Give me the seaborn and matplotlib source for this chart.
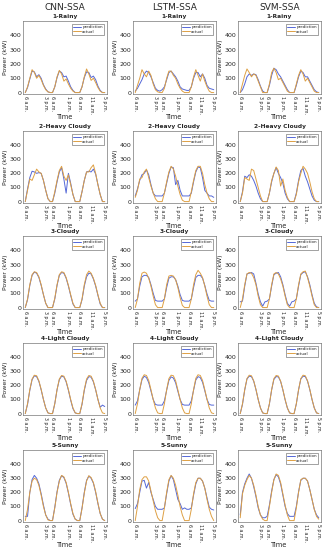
"""Prediction vs actual PV power for three SSA models and five weather types."""

import matplotlib

matplotlib.use("Agg")

import matplotlib.pyplot as plt
import pandas as pd
import seaborn as sns

FIG_DPI = 100
PRED_COLOR = "#5468d8"
ACTUAL_COLOR = "#dea044"

MODELS = ["CNN-SSA", "LSTM-SSA", "SVM-SSA"]
WEATHER = ["1-Rainy", "2-Heavy Cloudy", "3-Cloudy", "4-Light Cloudy", "5-Sunny"]

# 12 hourly samples per day (6 a.m. .. 5 p.m.), three days
TICK_POS = [0, 9, 12, 19, 24, 29, 35]
TICK_LABELS = ["6 a.m.", "3 p.m.", "6 a.m.", "1 p.m.", "6 a.m.", "11 a.m.", "5 p.m."]
Y_TICKS = [0, 100, 200, 300, 400]

# ---- 1-Rainy
cnn_rainy_pred = [0, 35, 95, 150, 145, 110, 125, 100, 55, 25, 5, 0,
                  0, 40, 105, 150, 140, 110, 115, 80, 40, 15, 0, 0,
                  0, 40, 105, 145, 140, 105, 115, 90, 45, 15, 0, 0]
cnn_rainy_act = [0, 40, 100, 160, 140, 100, 120, 90, 50, 20, 5, 0,
                 0, 40, 110, 155, 130, 80, 95, 60, 30, 10, 0, 0,
                 0, 40, 110, 165, 130, 85, 100, 70, 35, 10, 0, 0]
lstm_rainy_pred = [10, 30, 60, 90, 130, 150, 140, 110, 70, 30, 15, 10,
                   20, 40, 90, 140, 150, 130, 110, 80, 40, 25, 20, 15,
                   15, 40, 100, 140, 140, 110, 130, 100, 50, 30, 25, 20]
lstm_rainy_act = [0, 50, 100, 160, 130, 110, 150, 120, 60, 20, 5, 0,
                  0, 30, 100, 150, 150, 120, 100, 60, 30, 10, 0, 0,
                  0, 40, 110, 160, 120, 80, 130, 80, 40, 10, 0, 0]
svm_rainy_pred = [0, 20, 60, 110, 130, 120, 130, 125, 90, 45, 10, 0,
                  0, 50, 120, 170, 160, 130, 110, 80, 50, 20, 0, 0,
                  0, 50, 110, 150, 140, 110, 110, 80, 50, 20, 5, 0]
svm_rainy_act = [0, 60, 120, 165, 140, 110, 130, 120, 80, 40, 0, 0,
                 0, 60, 140, 170, 140, 90, 100, 70, 40, 10, 0, 0,
                 0, 60, 120, 160, 130, 80, 100, 70, 40, 10, 0, 0]

# ---- 2-Heavy Cloudy
cnn_heavy_pred = [0, 90, 170, 215, 210, 200, 205, 200, 150, 80, 20, 0,
                  0, 60, 140, 210, 240, 160, 60, 200, 130, 50, 0, 0,
                  0, 70, 150, 210, 215, 210, 230, 195, 120, 50, 0, 0]
cnn_heavy_act = [0, 80, 160, 150, 190, 230, 210, 200, 150, 80, 20, 0,
                 0, 70, 150, 220, 250, 180, 150, 190, 120, 50, 0, 0,
                 0, 70, 150, 210, 210, 240, 260, 200, 120, 50, 0, 0]
lstm_heavy_pred = [40, 90, 150, 190, 200, 225, 190, 120, 60, 40, 40, 40,
                   40, 60, 130, 200, 245, 240, 120, 150, 80, 40, 40, 40,
                   40, 60, 140, 210, 245, 240, 170, 80, 60, 40, 40, 30]
lstm_heavy_act = [30, 80, 160, 170, 210, 230, 170, 110, 60, 20, 0, 0,
                  0, 60, 140, 210, 250, 230, 180, 110, 50, 10, 0, 0,
                  0, 70, 150, 220, 250, 250, 200, 120, 60, 20, 0, 0]
svm_heavy_pred = [0, 70, 180, 170, 190, 180, 150, 110, 60, 20, 0, 0,
                  0, 60, 140, 200, 240, 200, 170, 130, 60, 20, 0, 0,
                  0, 60, 150, 220, 235, 180, 140, 90, 40, 10, 0, 0]
svm_heavy_act = [0, 60, 170, 160, 150, 230, 220, 160, 100, 40, 0, 0,
                 0, 60, 150, 200, 245, 220, 110, 160, 80, 30, 0, 0,
                 0, 50, 140, 200, 250, 230, 200, 140, 70, 20, 0, 0]

# ---- 3-Cloudy
cnn_cloudy_pred = [0, 55, 155, 225, 248, 240, 210, 155, 90, 30, 0, 0,
                   0, 60, 155, 225, 245, 240, 205, 150, 85, 25, 0, 0,
                   0, 55, 150, 215, 240, 235, 200, 150, 85, 25, 0, 0]
cnn_cloudy_act = [0, 60, 160, 230, 250, 245, 215, 160, 90, 30, 0, 0,
                  0, 65, 160, 230, 250, 245, 210, 155, 90, 30, 0, 0,
                  0, 60, 160, 230, 255, 240, 205, 155, 90, 30, 0, 0]
lstm_cloudy_pred = [45, 60, 150, 215, 225, 225, 210, 160, 100, 50, 45, 45,
                    45, 60, 140, 205, 215, 215, 195, 150, 90, 50, 45, 45,
                    45, 60, 140, 210, 225, 225, 205, 155, 95, 50, 45, 45]
lstm_cloudy_act = [0, 60, 170, 240, 248, 240, 205, 150, 80, 20, 0, 0,
                   0, 60, 160, 220, 225, 220, 195, 140, 70, 15, 0, 0,
                   0, 60, 160, 230, 260, 240, 210, 150, 80, 20, 0, 0]
svm_cloudy_pred = [40, 45, 150, 235, 240, 245, 235, 170, 95, 40, 10, 40,
                   45, 60, 150, 230, 240, 245, 215, 160, 90, 30, 10, 40,
                   45, 60, 150, 230, 245, 250, 215, 160, 90, 30, 5, 0]
svm_cloudy_act = [0, 60, 160, 235, 245, 240, 210, 160, 80, 20, 0, 0,
                  0, 60, 160, 235, 245, 235, 200, 150, 80, 20, 0, 0,
                  0, 60, 160, 235, 250, 255, 210, 150, 80, 20, 0, 0]

# ---- 4-Light Cloudy
cnn_light_pred = [0, 65, 165, 240, 268, 262, 228, 168, 100, 40, 5, 0,
                  0, 70, 170, 240, 265, 260, 225, 165, 95, 35, 5, 0,
                  0, 65, 165, 235, 262, 258, 225, 168, 100, 45, 60, 50]
cnn_light_act = [0, 70, 170, 245, 272, 268, 232, 172, 100, 40, 5, 0,
                 0, 70, 170, 245, 270, 265, 230, 170, 100, 40, 5, 0,
                 0, 70, 170, 245, 270, 265, 230, 170, 100, 40, 5, 0]
lstm_light_pred = [60, 90, 170, 240, 265, 255, 220, 160, 100, 65, 60, 60,
                   60, 90, 165, 235, 260, 252, 218, 158, 100, 65, 60, 60,
                   60, 90, 165, 238, 262, 255, 222, 162, 100, 65, 60, 60]
lstm_light_act = [0, 70, 170, 250, 275, 270, 235, 170, 100, 40, 5, 0,
                  0, 70, 170, 248, 272, 268, 232, 168, 100, 40, 5, 0,
                  0, 70, 170, 250, 275, 270, 235, 170, 100, 40, 5, 0]
svm_light_pred = [0, 65, 168, 245, 265, 262, 230, 170, 100, 40, 5, 0,
                  0, 68, 168, 242, 262, 260, 228, 168, 98, 40, 5, 0,
                  0, 68, 168, 245, 265, 262, 230, 170, 100, 40, 5, 0]
svm_light_act = [0, 70, 170, 248, 272, 268, 232, 172, 100, 40, 5, 0,
                 0, 70, 170, 248, 270, 266, 230, 170, 100, 40, 5, 0,
                 0, 70, 170, 248, 272, 268, 232, 172, 100, 40, 5, 0]

# ---- 5-Sunny
cnn_sunny_pred = [30, 30, 200, 290, 320, 300, 260, 190, 110, 40, 10, 0,
                  0, 95, 205, 285, 318, 305, 265, 195, 115, 45, 10, 0,
                  0, 90, 200, 285, 315, 300, 265, 200, 120, 50, 10, 0]
cnn_sunny_act = [0, 80, 200, 280, 300, 290, 250, 180, 100, 40, 5, 0,
                 0, 90, 200, 280, 320, 310, 270, 200, 120, 50, 10, 0,
                 0, 85, 195, 280, 318, 305, 270, 205, 125, 50, 10, 0]
lstm_sunny_pred = [85, 120, 200, 280, 285, 230, 270, 200, 150, 100, 80, 80,
                   80, 90, 190, 280, 318, 290, 220, 150, 120, 80, 90, 80,
                   80, 90, 180, 260, 300, 300, 280, 230, 160, 95, 80, 75]
lstm_sunny_act = [0, 100, 220, 290, 310, 310, 280, 210, 140, 70, 20, 0,
                  0, 90, 200, 290, 320, 300, 250, 180, 100, 40, 0, 0,
                  0, 80, 190, 270, 300, 300, 280, 230, 150, 80, 30, 0]
svm_sunny_pred = [40, 200, 260, 300, 330, 300, 240, 170, 90, 40, 20, 20,
                  30, 110, 210, 290, 325, 310, 260, 180, 100, 50, 30, 30,
                  30, 100, 205, 285, 300, 300, 280, 220, 150, 80, 40, 20]
svm_sunny_act = [20, 190, 250, 290, 320, 300, 250, 180, 100, 40, 10, 0,
                 0, 100, 200, 290, 330, 320, 270, 190, 110, 40, 0, 0,
                 0, 90, 200, 290, 300, 300, 280, 220, 150, 80, 30, 10]

PANELS = [
    [(cnn_rainy_pred, cnn_rainy_act), (lstm_rainy_pred, lstm_rainy_act), (svm_rainy_pred, svm_rainy_act)],
    [(cnn_heavy_pred, cnn_heavy_act), (lstm_heavy_pred, lstm_heavy_act), (svm_heavy_pred, svm_heavy_act)],
    [(cnn_cloudy_pred, cnn_cloudy_act), (lstm_cloudy_pred, lstm_cloudy_act), (svm_cloudy_pred, svm_cloudy_act)],
    [(cnn_light_pred, cnn_light_act), (lstm_light_pred, lstm_light_act), (svm_light_pred, svm_light_act)],
    [(cnn_sunny_pred, cnn_sunny_act), (lstm_sunny_pred, lstm_sunny_act), (svm_sunny_pred, svm_sunny_act)],
]

# axes boxes in pixels: (x0, x1) per column, (y_top, y_bottom) per row
COL_X = [(23, 107), (133, 216), (238, 321)]
ROW_Y = [(21, 94), (131, 203), (236, 309), (343, 415), (450, 522)]
W_PX, H_PX = 328, 550


def _frame(pred: list, act: list) -> pd.DataFrame:
    n = len(pred)
    return pd.DataFrame(
        {
            "step": list(range(n)) * 2,
            "power": pred + act,
            "series": ["prediction"] * n + ["actual"] * n,
        }
    )


def main() -> None:
    sns.set_theme(style="white")
    plt.rcParams["font.family"] = ["DejaVu Sans"]
    fig = plt.figure(figsize=(W_PX / FIG_DPI, H_PX / FIG_DPI), dpi=FIG_DPI)

    for r, row in enumerate(PANELS):
        y0, y1 = ROW_Y[r]
        for c, (pred, act) in enumerate(row):
            x0, x1 = COL_X[c]
            ax = fig.add_axes(
                [x0 / W_PX, 1 - y1 / H_PX, (x1 - x0) / W_PX, (y1 - y0) / H_PX]
            )
            sns.lineplot(
                data=_frame(pred, act),
                x="step",
                y="power",
                hue="series",
                palette={"prediction": PRED_COLOR, "actual": ACTUAL_COLOR},
                linewidth=0.7,
                ax=ax,
            )
            ax.set_xlim(-1, 36)
            ax.set_ylim(-10, 500)
            ax.set_xticks(TICK_POS)
            ax.set_xticklabels(TICK_LABELS, rotation=270, fontsize=3.4)
            ax.set_yticks(Y_TICKS)
            ax.tick_params(axis="y", labelsize=4.5)
            ax.tick_params(direction="in", length=1.5, width=0.4, pad=1.2)
            for spine in ax.spines.values():
                spine.set_linewidth(0.4)
                spine.set_color("#555555")
            ax.set_xlabel("Time", fontsize=4.8, labelpad=0.5)
            ax.set_ylabel("Power (kW)", fontsize=4.5, labelpad=1)
            ax.set_title(WEATHER[r], fontsize=4.2, fontweight="bold", pad=2)
            leg = ax.legend(
                loc="upper right",
                fontsize=3.0,
                frameon=True,
                fancybox=False,
                handlelength=1.8,
                borderpad=0.3,
                labelspacing=0.1,
                handletextpad=0.4,
                borderaxespad=0.7,
            )
            leg.get_frame().set_edgecolor("#333333")
            leg.get_frame().set_linewidth(0.4)
            if r == 0:
                fig.text(
                    (x0 + x1) / 2 / W_PX,
                    1 - 8 / H_PX,
                    MODELS[c],
                    ha="center",
                    va="center",
                    fontsize=6.5,
                )

    fig.savefig("out.png", dpi=FIG_DPI)
    plt.close(fig)


if __name__ == "__main__":
    main()
